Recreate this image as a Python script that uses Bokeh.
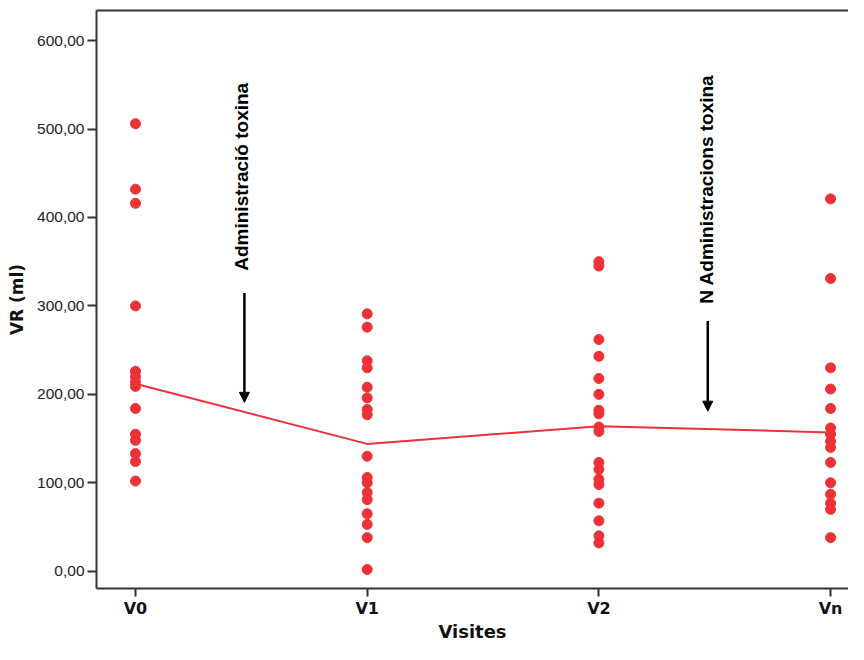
import math
from bokeh.plotting import figure
from bokeh.models import FixedTicker, LinearAxis, Arrow, NormalHead, Range1d, ColumnDataSource
from bokeh.core.properties import value
from bokeh.embed import file_html
from bokeh.resources import INLINE

# ---- data ----
visits = ["V0", "V1", "V2", "Vn"]
vr_v0 = [506, 432, 416, 300, 226, 220, 214, 209, 184, 155, 148, 133, 124, 102]
vr_v1 = [291, 276, 238, 230, 208, 196, 183, 177, 130, 106, 100, 89, 81, 65, 53, 38, 2]
vr_v2 = [350, 345, 262, 243, 218, 200, 182, 178, 163, 158, 123, 115, 104, 98, 77, 57, 40, 32]
vr_vn = [421, 331, 230, 206, 184, 162, 155, 147, 140, 123, 100, 87, 77, 70, 38]
line_vals = [212, 144, 164, 157]
y_ticks = [0, 100, 200, 300, 400, 500, 600]
y_tick_labels = ["0,00", "100,00", "200,00", "300,00", "400,00", "500,00", "600,00"]
annot_texts = ["Administració toxina", "N Administracions toxina"]

RED = "#ec3237"
AX = "#333333"

p = figure(width=848, height=644, output_backend="svg", toolbar_location=None,
           x_range=Range1d(-0.1683, 3.0773), y_range=Range1d(-19.5, 634.0),
           min_border_left=96, min_border_right=0, min_border_top=10, min_border_bottom=0)
p.xgrid.visible = False
p.ygrid.visible = False
p.outline_line_color = None
p.background_fill_color = "white"
p.border_fill_color = "white"

# x axis
xs_idx = list(range(len(visits)))
p.xaxis.ticker = FixedTicker(ticks=xs_idx)
p.xaxis.major_label_overrides = {i: v for i, v in zip(xs_idx, visits)}
p.xaxis.axis_label = "Visites"
p.xaxis.axis_label_text_font = "DejaVu Sans"
p.xaxis.axis_label_text_font_style = "bold"
p.xaxis.axis_label_text_font_size = "18px"
p.xaxis.axis_label_text_color = "#111111"
p.xaxis.axis_label_standoff = 0
p.xaxis.major_label_text_font = "DejaVu Sans"
p.xaxis.major_label_text_font_style = "bold"
p.xaxis.major_label_text_font_size = "16px"
p.xaxis.major_label_text_color = "#111111"
p.xaxis.major_label_standoff = 2
p.xaxis.major_tick_in = 0
p.xaxis.major_tick_out = 8
p.xaxis.minor_tick_out = 0
p.xaxis.minor_tick_in = 0

# y axis
p.yaxis.ticker = FixedTicker(ticks=y_ticks)
p.yaxis.major_label_overrides = {t: l for t, l in zip(y_ticks, y_tick_labels)}
p.yaxis.axis_label = "VR (ml)"
p.yaxis.axis_label_text_font = "DejaVu Sans"
p.yaxis.axis_label_text_font_style = "bold"
p.yaxis.axis_label_text_font_size = "17px"
p.yaxis.axis_label_text_color = "#111111"
p.yaxis.axis_label_standoff = 7
p.yaxis.major_label_text_font = "Liberation Sans"
p.yaxis.major_label_text_font_size = "15.5px"
p.yaxis.major_label_text_color = "#222222"
p.yaxis.major_label_standoff = 3
p.yaxis.major_tick_in = 0
p.yaxis.major_tick_out = 9
p.yaxis.minor_tick_out = 0
p.yaxis.minor_tick_in = 0

for ax in (p.xaxis, p.yaxis):
    ax.axis_line_color = AX
    ax.axis_line_width = 2
    ax.major_tick_line_color = AX
    ax.major_tick_line_width = 2

top = LinearAxis(ticker=FixedTicker(ticks=[]), major_tick_out=0, major_tick_in=0,
                 minor_tick_out=0, minor_tick_in=0, major_label_text_font_size="0px",
                 major_label_standoff=0, axis_line_color=AX, axis_line_width=2)
p.add_layout(top, "above")

# points
xs, ys = [], []
for i, vals in enumerate([vr_v0, vr_v1, vr_v2, vr_vn]):
    xs += [i] * len(vals)
    ys += vals
src = ColumnDataSource(dict(x=xs, y=ys))
p.line(xs_idx, line_vals, line_color=RED, line_width=2)
p.scatter("x", "y", source=src, size=10, fill_color=RED, line_color=RED)

# annotations
p.text(x=[0.456, 2.466], y=[446, 432], text=annot_texts, angle=math.pi / 2,
       text_align="center", text_baseline="middle", text_font=value("Liberation Sans"),
       text_font_style="bold", text_font_size="19px", text_color="black")
for xa, y0, y1 in [(0.47, 314.7, 191), (2.47, 283, 181)]:
    p.add_layout(Arrow(end=NormalHead(size=10, fill_color="black", line_color="black"),
                       x_start=xa, y_start=y0, x_end=xa, y_end=y1,
                       line_width=2.5, line_color="black"))

open("out.html", "w").write(file_html(p, INLINE))
